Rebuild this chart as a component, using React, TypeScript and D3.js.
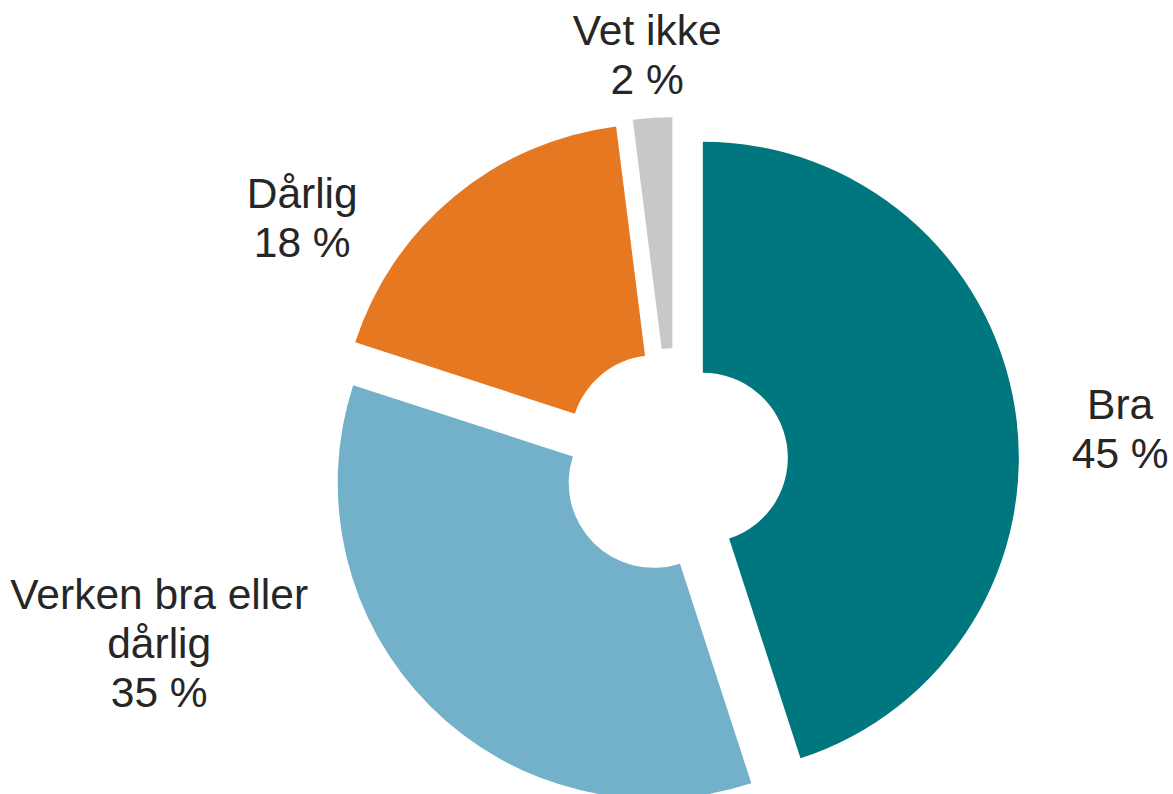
import React from "react";
import * as d3 from "d3";

const categories: string[] = ["Bra", "Verken bra eller dårlig", "Dårlig", "Vet ikke"];
const labelLines: string[][] = [["Bra"], ["Verken bra eller", "dårlig"], ["Dårlig"], ["Vet ikke"]];
const values: number[] = [45, 35, 18, 2];
const colors: string[] = ["#00767f", "#72b1c9", "#e77822", "#c8c8c6"];

// layout
const W = 1173;
const H = 794;
const CX = 674.2;
const CY = 462.3;
const R_OUT = 316;
const R_IN = 85;
const EXPLODE = 29;
const FONT_SIZE = 42.5;
const LINE_H = 48.8;
// label anchor (center x, first baseline) relative to chart center
const LABEL_OFFSETS: [number, number][] = [
  [446, -43],
  [-515, 147],
  [-372, -254],
  [-27, -417],
];

export default function App() {
  const pie = d3
    .pie<number>()
    .sort(null)
    .startAngle(0)
    .endAngle(2 * Math.PI)
    .value((d) => d);
  const arcs = pie(values);
  const arc = d3.arc<d3.PieArcDatum<number>>().innerRadius(R_IN).outerRadius(R_OUT);

  return (
    <svg
      width={W}
      height={H}
      style={{ position: "absolute", left: 0, top: 0, background: "#fff" }}
      fontFamily="'Liberation Sans', Arial, sans-serif"
    >
      <g transform={`translate(${CX},${CY})`}>
        {arcs.map((a, i) => {
          const mid = (a.startAngle + a.endAngle) / 2;
          const dx = Math.sin(mid) * EXPLODE;
          const dy = -Math.cos(mid) * EXPLODE;
          return (
            <path
              key={categories[i]}
              d={arc(a) || ""}
              fill={colors[i]}
              transform={`translate(${dx},${dy})`}
            />
          );
        })}
        {arcs.map((a, i) => {
          const [ox, oy] = LABEL_OFFSETS[i];
          const lines = [...labelLines[i], `${values[i]} %`];
          return (
            <text
              key={"l" + i}
              x={ox}
              y={oy}
              textAnchor="middle"
              fontSize={FONT_SIZE}
              fill="#262626"
            >
              {lines.map((t, j) => (
                <tspan key={j} x={ox} y={oy + j * LINE_H}>
                  {t}
                </tspan>
              ))}
            </text>
          );
        })}
      </g>
    </svg>
  );
}
